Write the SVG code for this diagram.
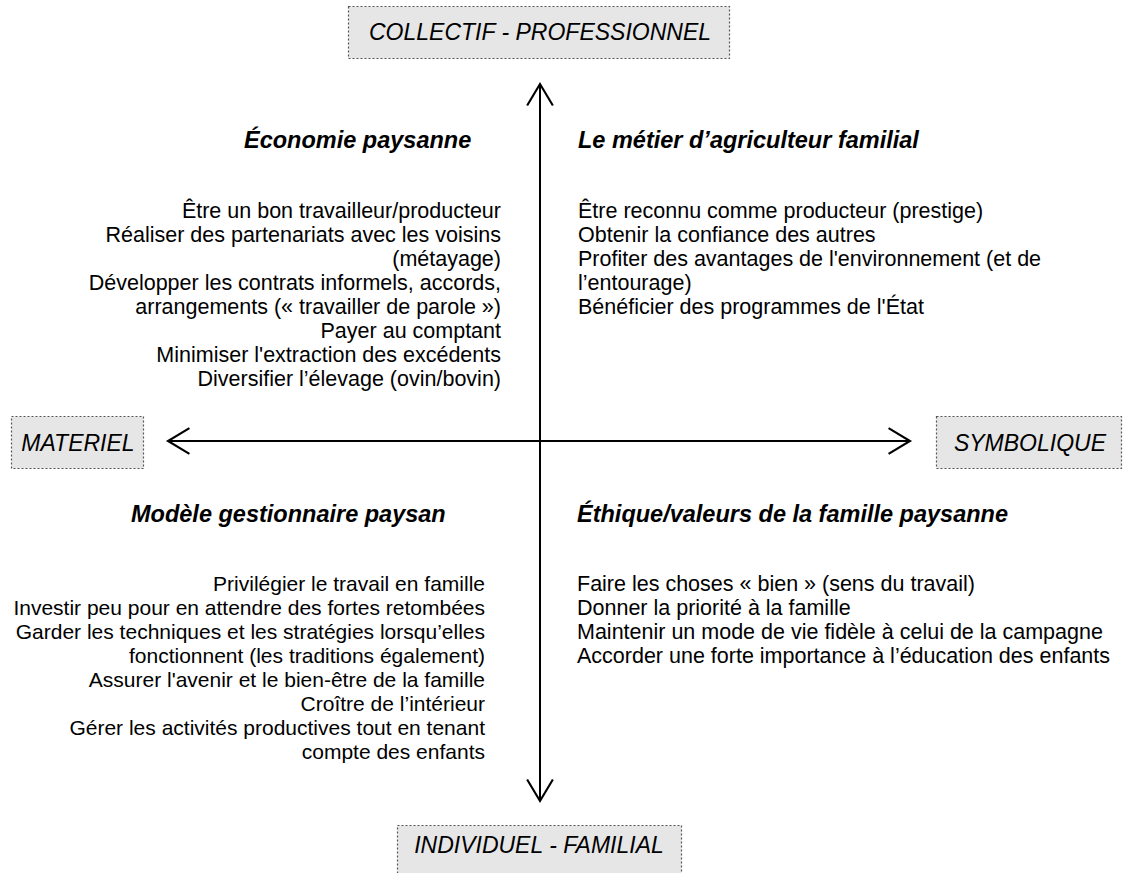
<svg xmlns="http://www.w3.org/2000/svg" width="1123" height="873" viewBox="0 0 1123 873">
<defs>
<marker id="chev" markerUnits="userSpaceOnUse" markerWidth="30" markerHeight="30" viewBox="-22 -14 26 28" refX="0" refY="0" orient="auto">
<path d="M-20,-12 L0,0 L-20,12" fill="none" stroke="#000" stroke-width="2"/>
</marker>
</defs>
<style>
text{font-family:"Liberation Sans",Arial,Helvetica,sans-serif;fill:#000}
.axis-label{font-size:23px;font-style:italic}
.box{fill:#e6e6e6;stroke:#555;stroke-width:1.2;stroke-dasharray:2 2}
.title{font-size:23.5px;font-weight:bold;font-style:italic}
.body{font-size:21.5px}
.body-s{font-size:21px}
.end{text-anchor:end}
.axis{stroke:#000;stroke-width:2;fill:none}
</style>
<rect width="1123" height="873" fill="#fff"/>
<g id="connectors">
<line class="axis" x1="540" y1="442" x2="540" y2="84" marker-end="url(#chev)"/>
<line class="axis" x1="540" y1="442" x2="540" y2="801" marker-end="url(#chev)"/>
<line class="axis" x1="540" y1="441" x2="168" y2="441" marker-end="url(#chev)"/>
<line class="axis" x1="540" y1="441" x2="910" y2="441" marker-end="url(#chev)"/>
</g>
<g id="collectif">
<rect class="box" x="348.5" y="6.5" width="381" height="52"/>
<text class="axis-label" x="540" y="40" text-anchor="middle">COLLECTIF - PROFESSIONNEL</text>
</g>
<g id="materiel">
<rect class="box" x="11.5" y="416.5" width="132" height="52"/>
<text class="axis-label" x="78" y="451" text-anchor="middle">MATERIEL</text>
</g>
<g id="symbolique">
<rect class="box" x="936.5" y="416.5" width="185" height="52"/>
<text class="axis-label" x="1030" y="451" text-anchor="middle">SYMBOLIQUE</text>
</g>
<g id="individuel">
<rect class="box" x="397.5" y="825.5" width="284" height="52"/>
<text class="axis-label" x="539" y="853" text-anchor="middle">INDIVIDUEL - FAMILIAL</text>
</g>
<g id="economie-paysanne">
<text class="title" x="244" y="148">Économie paysanne</text>
<text class="body end" x="501" y="218">Être un bon travailleur/producteur</text>
<text class="body end" x="501" y="242">Réaliser des partenariats avec les voisins</text>
<text class="body end" x="501" y="266">(métayage)</text>
<text class="body end" x="501" y="290">Développer les contrats informels, accords,</text>
<text class="body end" x="501" y="314">arrangements (« travailler de parole »)</text>
<text class="body end" x="501" y="338">Payer au comptant</text>
<text class="body end" x="501" y="362">Minimiser l'extraction des excédents</text>
<text class="body end" x="501" y="386">Diversifier l’élevage (ovin/bovin)</text>
</g>
<g id="metier-agriculteur">
<text class="title" x="578" y="148">Le métier d’agriculteur familial</text>
<text class="body" x="578" y="218">Être reconnu comme producteur (prestige)</text>
<text class="body" x="578" y="242">Obtenir la confiance des autres</text>
<text class="body" x="578" y="266">Profiter des avantages de l'environnement (et de</text>
<text class="body" x="578" y="290">l’entourage)</text>
<text class="body" x="578" y="314">Bénéficier des programmes de l'État</text>
</g>
<g id="modele-gestionnaire">
<text class="title" x="131" y="522">Modèle gestionnaire paysan</text>
<text class="body-s end" x="485" y="591">Privilégier le travail en famille</text>
<text class="body-s end" x="485" y="615">Investir peu pour en attendre des fortes retombées</text>
<text class="body-s end" x="485" y="639">Garder les techniques et les stratégies lorsqu’elles</text>
<text class="body-s end" x="485" y="663">fonctionnent (les traditions également)</text>
<text class="body-s end" x="485" y="687">Assurer l'avenir et le bien-être de la famille</text>
<text class="body-s end" x="485" y="711">Croître de l’intérieur</text>
<text class="body-s end" x="485" y="735">Gérer les activités productives tout en tenant</text>
<text class="body-s end" x="485" y="759">compte des enfants</text>
</g>
<g id="ethique-valeurs">
<text class="title" x="577" y="522">Éthique/valeurs de la famille paysanne</text>
<text class="body" x="577" y="591">Faire les choses « bien » (sens du travail)</text>
<text class="body" x="577" y="615">Donner la priorité à la famille</text>
<text class="body" x="577" y="639">Maintenir un mode de vie fidèle à celui de la campagne</text>
<text class="body" x="577" y="663">Accorder une forte importance à l’éducation des enfants</text>
</g>
</svg>
